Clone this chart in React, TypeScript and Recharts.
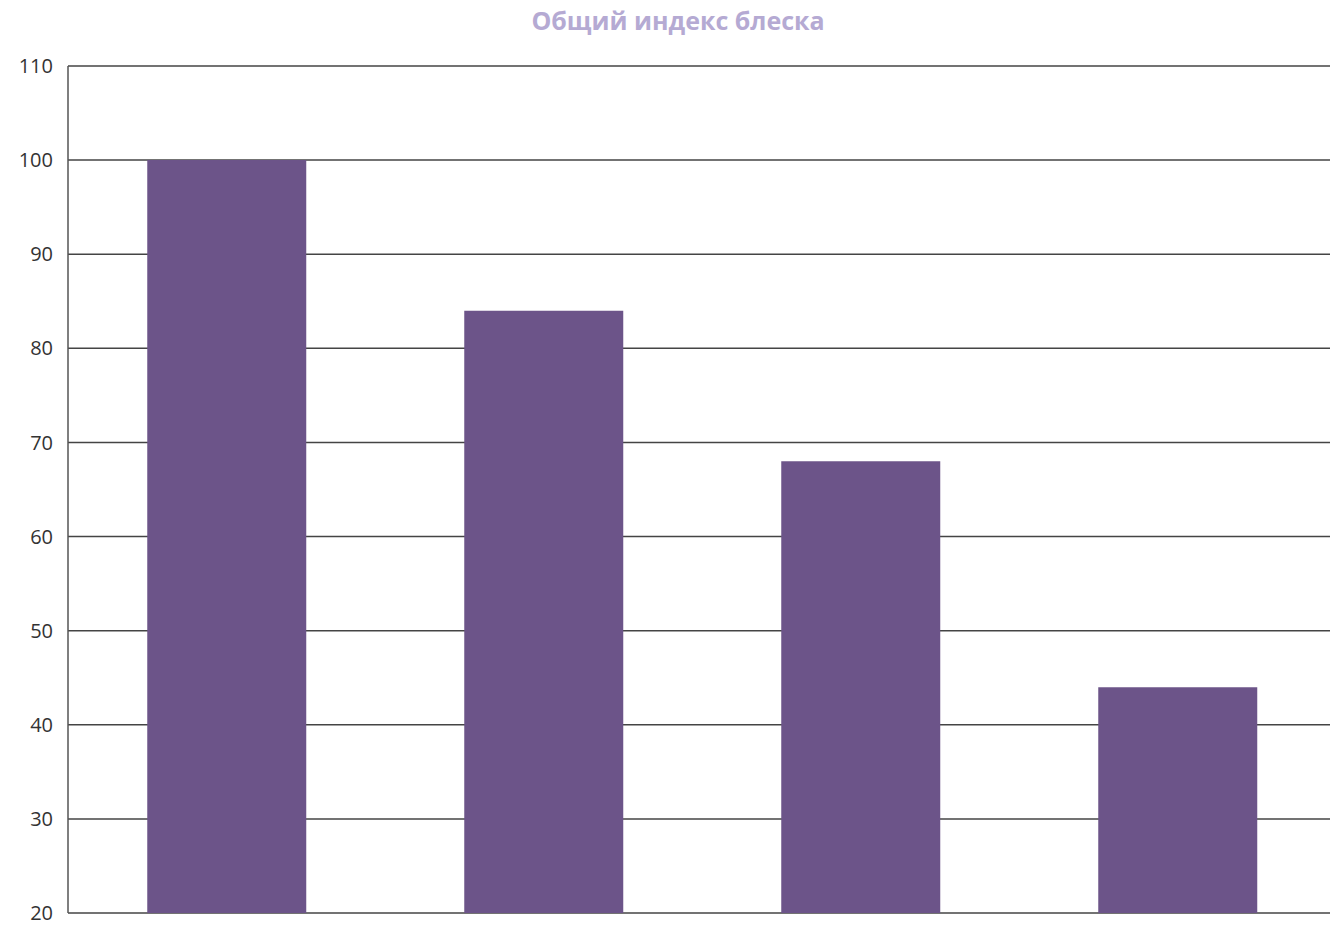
import React from 'react';
import { BarChart, Bar, XAxis, YAxis, CartesianGrid } from 'recharts';

const categories = ['A', 'B', 'C', 'D'];
const glossValues = [100, 84, 68, 44];
const yTicks = [20, 30, 40, 50, 60, 70, 80, 90, 100, 110];

const data = categories.map((name, i) => ({ name, value: glossValues[i] }));

const App = () => {
  return (
    <div style={{ position: 'absolute', left: 0, top: 0, width: 1330, height: 926, background: '#fff', overflow: 'hidden' }}>
      <div
        style={{
          position: 'absolute',
          left: 0,
          width: 1356,
          top: 3,
          textAlign: 'center',
          fontFamily: '"Open Sans", sans-serif',
          fontWeight: 700,
          fontSize: 25,
          color: '#b5aad3',
        }}
      >
        Общий индекс блеска
      </div>
      <BarChart
        width={1336}
        height={926}
        data={data}
        margin={{ top: 66, right: 0, left: 0, bottom: 13 }}
        barCategoryGap="25%"
      >
        <CartesianGrid vertical={false} stroke="#444" strokeWidth={1.5} />
        <XAxis dataKey="name" hide />
        <YAxis
          width={68}
          domain={[20, 110]}
          ticks={yTicks}
          allowDataOverflow
          tickLine={false}
          tickSize={0}
          tickMargin={15}
          axisLine={{ stroke: '#555', strokeWidth: 1.5 }}
          tick={{ fill: '#333', fontSize: 20, fontFamily: '"Open Sans", sans-serif' }}
        />
        <Bar dataKey="value" fill="#6c5489" isAnimationActive={false} />
      </BarChart>
    </div>
  );
};

export default App;
